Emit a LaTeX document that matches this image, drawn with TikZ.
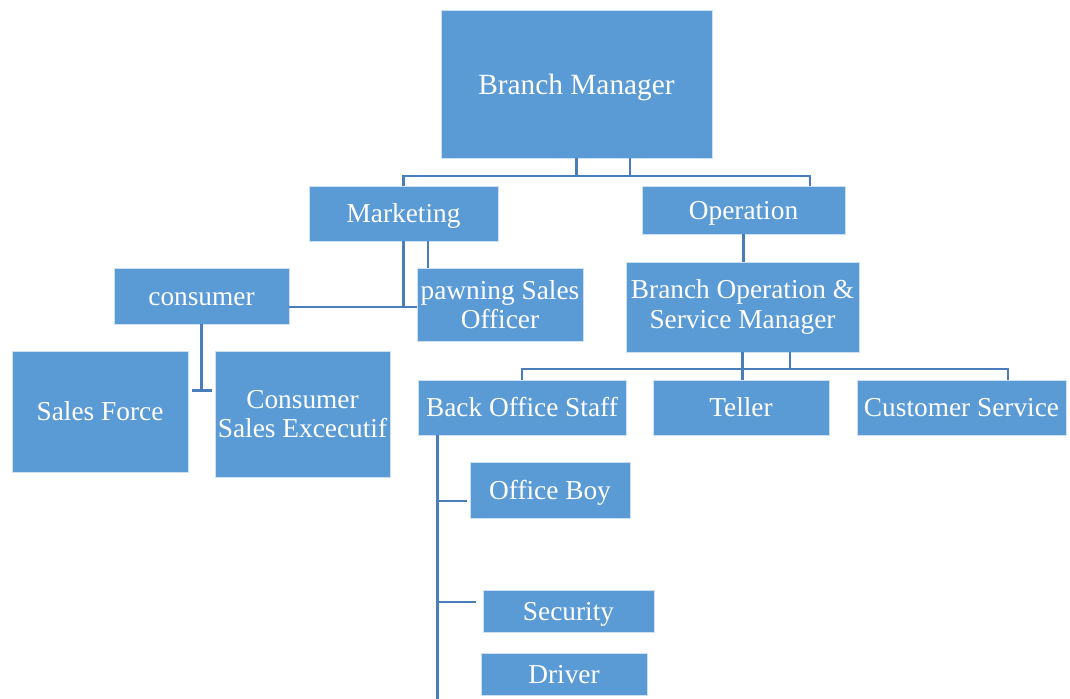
\documentclass[tikz,border=0pt]{standalone}
\usepackage{fontspec}
\setmainfont{Liberation Serif}
\usetikzlibrary{calc,positioning}
\definecolor{boxblue}{HTML}{5B9BD5}
\definecolor{linkblue}{HTML}{4A7EBB}
\tikzset{
  unit/.style 2 args={fill=boxblue, draw=white!70!boxblue, line width=0.6pt, text=white,
    align=center, inner sep=0pt, minimum width=#1*0.75pt, minimum height=#2*0.75pt,
    font=\fontsize{20.5}{22}\selectfont},
  single/.style={text height=14pt, text depth=0pt},
  link/.style={draw=linkblue, line width=2.1pt}
}
\begin{document}
\begin{tikzpicture}[x=0.75pt,y=-0.75pt]
            \useasboundingbox (0,0) rectangle (1070,699);
            \node[unit={271}{148}, single, text height=15pt, font=\fontsize{22}{24}\selectfont] (bm) at (576.5,84) {Branch Manager};
            \node[unit={189}{55}, single] (mkt) at (403.5,213.5) {Marketing};
            \node[unit={203}{48}, single] (ops) at (743.5,210) {Operation};
            \node[unit={175}{56}, single] (cons) at (201.5,296) {consumer};
            \node[unit={166}{73}] (pso) at (500,304.5) {pawning Sales\\Officer};
            \node[unit={176}{121}, single] (sf) at (100,411.5) {Sales Force};
            \node[unit={175}{126}] (cse) at (302.5,414) {Consumer\\Sales Excecutif};
            \node[unit={233}{90}] (bosm) at (742.5,307) {Branch Operation \&\\Service Manager};
            \node[unit={208}{55}, single] (bos) at (522,407.5) {Back Office Staff};
            \node[unit={176}{55}, single] (tel) at (741,407.5) {Teller};
            \node[unit={209}{55}, single] (cs) at (961.5,407.5) {Customer Service};
            \node[unit={160}{56}, single] (ob) at (550,490) {Office Boy};
            \node[unit={171}{42}, single] (sec) at (568.5,611) {Security};
            \node[unit={166}{42}, single] (drv) at (564,674) {Driver};

            \coordinate (bus1) at (0,176);
            \coordinate (opsdrop) at ($(ops.north)+(66.5,0)$);
            \coordinate (bmright) at ($(bm.south)+(53.5,0)$);
            \draw[link] (mkt.north) |- (opsdrop |- bus1) -- (opsdrop);
            \draw[link] (bm.south) -- (bm.south |- bus1);
            \draw[link] (bmright) -- (bmright |- bus1);

            \coordinate (bus2) at (0,307);
            \coordinate (mktright) at ($(mkt.south)+(24.5,0)$);
            \draw[link] (mkt.south) -- (mkt.south |- bus2);
            \draw[link] (cons.east |- bus2) -- (pso.west |- bus2);
            \draw[link] (mktright) -- (mktright |- pso.north);

            \coordinate (tee) at ($(cons.south)+(0,66)$);
            \draw[link] (cons.south) -- (tee);
            \draw[link] ($(tee)+(-10,0)$) -- ($(tee)+(10,0)$);

            \draw[link] (ops.south) -- (ops.south |- bosm.north);

            \coordinate (bus3) at (0,369);
            \coordinate (csdrop) at ($(cs.north)+(46.5,0)$);
            \coordinate (bosmright) at ($(bosm.south)+(47.5,0)$);
            \draw[link] (bos.north) |- (csdrop |- bus3) -- (csdrop);
            \draw[link] (bosm.south) -- (bosm.south |- tel.north);
            \draw[link] (bosmright) -- (bosmright |- bus3);

            \coordinate (spine) at ($(bos.south west)+(20,0)$);
            \coordinate (obin) at ($(ob.west)+(-3,11)$);
            \coordinate (secin) at ($(sec.west)+(-7,-9)$);
            \draw[link] (spine) -- ++(0,265);
            \draw[link] (spine |- obin) -- (obin);
            \draw[link] (spine |- secin) -- (secin);
\end{tikzpicture}
\end{document}
